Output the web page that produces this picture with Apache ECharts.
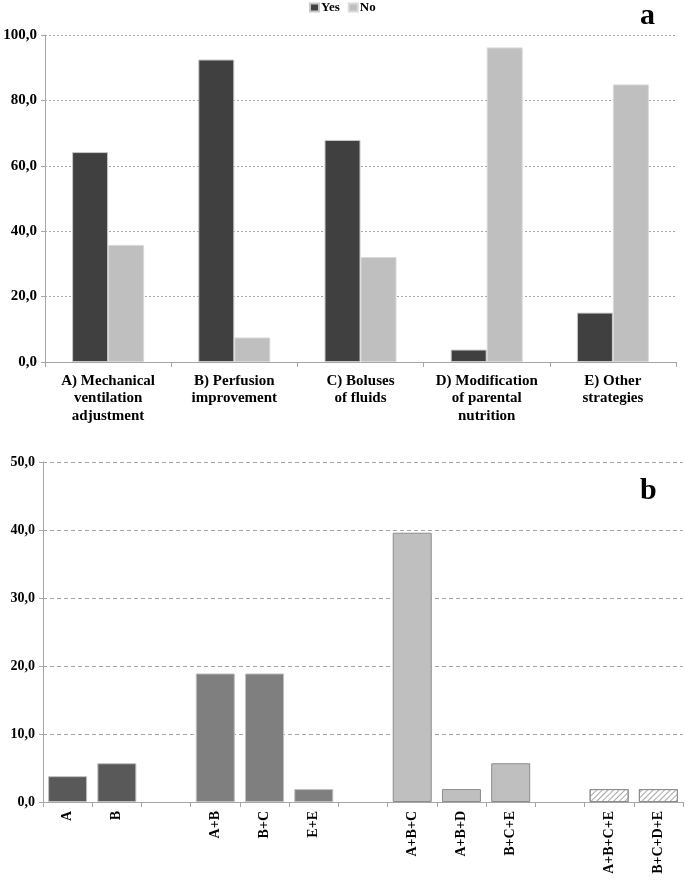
<!DOCTYPE html>
<html>
<head>
<meta charset="utf-8">
<script src="https://cdn.jsdelivr.net/npm/echarts@6/dist/echarts.min.js"></script>
<style>
html,body{margin:0;padding:0;background:#fff;}
#c{width:685px;height:882px;}
</style>
</head>
<body>
<div id="c"></div>
<script>
// ---- Data ----
const categoriesA = [
  'A) Mechanical\nventilation\nadjustment',
  'B) Perfusion\nimprovement',
  'C) Boluses\nof fluids',
  'D) Modification\nof parental\nnutrition',
  'E) Other\nstrategies'
];
const yesValues = [64.2, 92.5, 67.9, 3.8, 15.1];
const noValues = [35.8, 7.5, 32.1, 96.2, 84.9];
const ticksA = [0, 20, 40, 60, 80, 100];

const categoriesB = ['A', 'B', ' ', 'A+B', 'B+C', 'E+E', '  ', 'A+B+C', 'A+B+D', 'B+C+E', '   ', 'A+B+C+E', 'B+C+D+E'];
const valuesB = [3.8, 5.7, null, 18.9, 18.9, 1.9, null, 39.6, 1.9, 5.7, null, 1.9, 1.9];
const groupB = [1, 1, 0, 2, 2, 2, 0, 3, 3, 3, 0, 4, 4];
const ticksB = [0, 10, 20, 30, 40, 50];

// ---- Styles ----
const FONT = '"Liberation Serif", "Times New Roman", serif';
const groupStyle = {
  1: {color: '#595959', borderColor: '#bfbfbf', borderWidth: 1},
  2: {color: '#7f7f7f', borderColor: '#bfbfbf', borderWidth: 1},
  3: {color: '#bfbfbf', borderColor: '#8c8c8c', borderWidth: 1},
  4: {color: '#ffffff', borderColor: '#8c8c8c', borderWidth: 1,
      decal: {symbol: 'rect', symbolSize: 1, dashArrayX: [1, 0], dashArrayY: [1, 2.5], rotation: -Math.PI / 4, color: '#a6a6a6'}}
};
const fmt = v => v.toFixed(1).replace('.', ',');

const chart = echarts.init(document.getElementById('c'), null, {renderer: 'canvas'});

const dataB = valuesB.map((v, i) => v == null ? '-' : {value: v, itemStyle: groupStyle[groupB[i]]});

chart.setOption({
  backgroundColor: '#fff',
  animation: false,
  textStyle: {fontFamily: FONT},
  title: [
    {text: 'a', left: 640, top: 1, padding: 0, textStyle: {fontFamily: FONT, fontSize: 30, fontWeight: 'bold', color: '#000'}},
    {text: 'b', left: 640, top: 476, padding: 0, textStyle: {fontFamily: FONT, fontSize: 30, fontWeight: 'bold', color: '#000'}}
  ],
  legend: {
    data: ['Yes', 'No'],
    left: 309, top: 1, padding: 0,
    itemWidth: 9, itemHeight: 8, itemGap: 8,
    icon: 'rect',
    textStyle: {fontFamily: FONT, fontSize: 13, fontWeight: 'bold', color: '#000', padding: [0, 0, 0, -3]}
  },
  grid: [
    {left: 45, right: 9, top: 35, height: 327},
    {left: 43, right: 2, top: 462, height: 340}
  ],
  xAxis: [
    {
      type: 'category', gridIndex: 0, data: categoriesA,
      axisLine: {lineStyle: {color: '#a6a6a6', width: 1}},
      axisTick: {show: true, length: 5, lineStyle: {color: '#a6a6a6'}},
      axisLabel: {interval: 0, margin: 10, fontFamily: FONT, fontSize: 15, fontWeight: 'bold', color: '#000', lineHeight: 17.5}
    },
    {
      type: 'category', gridIndex: 1, data: categoriesB,
      axisLine: {lineStyle: {color: '#a6a6a6', width: 1}},
      axisTick: {show: true, length: 5, lineStyle: {color: '#a6a6a6'}},
      axisLabel: {interval: 0, rotate: 90, margin: 9, fontFamily: FONT, fontSize: 14, fontWeight: 'bold', color: '#000'}
    }
  ],
  yAxis: [
    {
      type: 'value', gridIndex: 0, min: ticksA[0], max: ticksA[ticksA.length - 1], interval: 20,
      axisLine: {show: true, lineStyle: {color: '#a6a6a6', width: 1}},
      axisTick: {show: true, length: 4, lineStyle: {color: '#a6a6a6'}},
      axisLabel: {formatter: fmt, margin: 8, fontFamily: FONT, fontSize: 15, fontWeight: 'bold', color: '#000'},
      splitLine: {show: true, lineStyle: {color: '#a6a6a6', type: [2, 2], width: 1}}
    },
    {
      type: 'value', gridIndex: 1, min: ticksB[0], max: ticksB[ticksB.length - 1], interval: 10,
      axisLine: {show: true, lineStyle: {color: '#a6a6a6', width: 1}},
      axisTick: {show: true, length: 4, lineStyle: {color: '#a6a6a6'}},
      axisLabel: {formatter: fmt, margin: 8, fontFamily: FONT, fontSize: 14, fontWeight: 'bold', color: '#000'},
      splitLine: {show: true, lineStyle: {color: '#a6a6a6', type: [4, 3], width: 1}}
    }
  ],
  series: [
    {
      name: 'Yes', type: 'bar', xAxisIndex: 0, yAxisIndex: 0, data: yesValues,
      barWidth: 36, barGap: '0%',
      itemStyle: {color: '#404040', borderColor: '#c8c8c8', borderWidth: 1}
    },
    {
      name: 'No', type: 'bar', xAxisIndex: 0, yAxisIndex: 0, data: noValues,
      barWidth: 36, barGap: '0%',
      itemStyle: {color: '#bfbfbf', borderColor: '#d9d9d9', borderWidth: 1}
    },
    {
      name: 'Combos', type: 'bar', xAxisIndex: 1, yAxisIndex: 1, data: dataB,
      barWidth: 39
    }
  ]
});
</script>
</body>
</html>
